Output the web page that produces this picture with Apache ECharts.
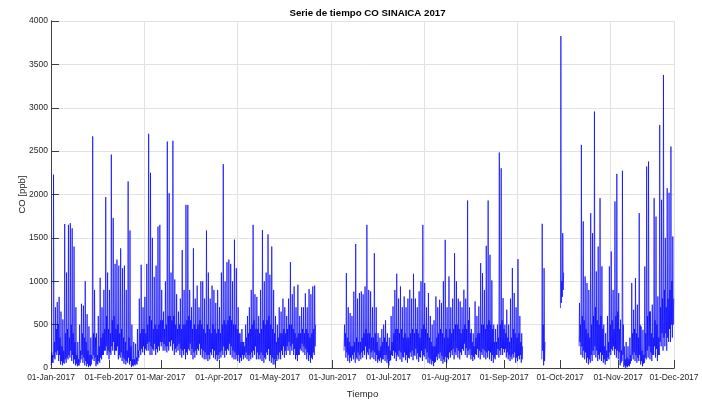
<!DOCTYPE html>
<html>
<head>
<meta charset="utf-8">
<script src="https://cdn.jsdelivr.net/npm/echarts@6/dist/echarts.min.js"></script>
<style>html,body{margin:0;padding:0;background:#fff}#c{width:702px;height:401px}</style>
</head>
<body>
<div id="c"></div>
<script>
// Hourly CO [ppb] 2017, summarised per day (null = no data):
// night minimum, morning maximum, afternoon low, evening level
const maxJan = [180, 2230, 700, 760, 820, 650, 560, 1660, 1100, 1650, 1670, 1610, 1400, 700, 300, 500, 740, 720, 1000, 620, 480, 350, 2670, 900, 400, 600, 1040, 700, 900, 1970, 1100];
const minJan = [30, 60, 100, 150, 80, 40, 30, 50, 60, 100, 120, 80, 50, 30, 20, 30, 100, 60, 30, 20, 10, 20, 100, 80, 20, 40, 60, 100, 150, 200, 150];
const lowJan = [60, 120, 180, 200, 150, 80, 60, 100, 120, 150, 200, 150, 100, 50, 30, 60, 150, 120, 80, 50, 30, 40, 150, 120, 50, 80, 120, 150, 200, 250, 200];
const eveJan = [150, 300, 450, 500, 350, 250, 200, 400, 450, 350, 500, 400, 300, 150, 100, 200, 400, 350, 300, 200, 150, 150, 400, 350, 150, 250, 350, 400, 450, 600, 450];

const maxFeb = [900, 2460, 1730, 1200, 1250, 1180, 1380, 1150, 1180, 900, 2150, 1585, 500, 300, 280, 450, 800, 1190, 700, 820, 1200, 2700, 2250, 1500, 1050, 1180, 1630, 1650];
const minFeb = [100, 150, 200, 150, 200, 100, 120, 80, 50, 40, 60, 40, 10, 20, 30, 40, 120, 150, 180, 150, 200, 200, 150, 150, 200, 150, 180, 200];
const lowFeb = [180, 250, 300, 200, 250, 150, 180, 120, 100, 80, 120, 80, 30, 40, 50, 80, 200, 220, 250, 220, 280, 300, 250, 220, 280, 220, 250, 300];
const eveFeb = [400, 550, 600, 450, 500, 400, 450, 350, 300, 200, 350, 250, 100, 100, 120, 200, 400, 450, 450, 400, 500, 600, 550, 450, 500, 450, 500, 550];

const maxMar = [900, 650, 1000, 2610, 2015, 1100, 2620, 1020, 850, 650, 800, 1360, 900, 1880, 1880, 900, 700, 1380, 800, 950, 700, 1000, 1000, 800, 1585, 1100, 800, 950, 900, 750, 900];
const minMar = [250, 200, 200, 180, 200, 250, 200, 150, 180, 200, 150, 120, 150, 100, 150, 200, 150, 100, 120, 150, 200, 150, 120, 100, 100, 80, 100, 150, 120, 100, 80];
const lowMar = [300, 280, 250, 250, 300, 320, 280, 220, 250, 280, 220, 200, 220, 180, 220, 280, 220, 180, 200, 220, 280, 220, 200, 180, 150, 150, 180, 220, 200, 150, 150];
const eveMar = [550, 450, 500, 600, 600, 550, 600, 500, 450, 500, 450, 500, 500, 550, 600, 550, 450, 500, 450, 500, 550, 500, 450, 400, 500, 450, 400, 500, 450, 400, 450];

const maxApr = [700, 1100, 2350, 1000, 1220, 1250, 1200, 1000, 1480, 1150, 700, 400, 450, 300, 500, 600, 700, 900, 1650, 850, 820, 600, 900, 1590, 1000, 1100, 1540, 1075, 1400, 900];
const minApr = [100, 120, 150, 120, 150, 200, 150, 120, 100, 100, 80, 60, 80, 100, 120, 100, 80, 100, 120, 150, 100, 100, 100, 80, 60, 100, 150, 80, 60, 40];
const lowApr = [180, 200, 250, 200, 220, 280, 250, 200, 180, 150, 150, 120, 150, 150, 180, 150, 150, 180, 200, 250, 180, 150, 180, 150, 120, 180, 220, 150, 120, 100];
const eveApr = [400, 500, 550, 500, 550, 600, 550, 500, 500, 450, 400, 300, 300, 250, 350, 400, 450, 500, 550, 450, 450, 400, 450, 550, 500, 550, 600, 500, 450, 400];

const maxMay = [600, 500, 700, 650, 800, 700, 600, 800, 1220, 850, 940, 700, 960, 600, 700, 700, 860, 700, 910, 850, 940, 950, null, null, null, null, null, null, null, null, null];
const minMay = [40, 80, 100, 100, 150, 120, 150, 200, 150, 200, 150, 100, 80, 150, 200, 180, 150, 100, 80, 60, 100, 150, null, null, null, null, null, null, null, null, null];
const lowMay = [100, 150, 180, 200, 250, 200, 250, 300, 250, 280, 220, 150, 150, 220, 280, 250, 220, 180, 150, 120, 180, 250, null, null, null, null, null, null, null, null, null];
const eveMay = [300, 350, 400, 400, 450, 400, 450, 500, 500, 450, 400, 350, 400, 400, 450, 400, 450, 400, 350, 400, 450, 500, null, null, null, null, null, null, null, null, null];

const maxJun = [null, null, null, null, null, null, 500, 1094, 700, 633, 600, 880, 1430, 800, 864, 883, 850, 940, 1650, 900, 883, 700, 1324, 700, 400, 350, 450, 500, 550, 400];
const minJun = [null, null, null, null, null, null, 200, 120, 80, 60, 80, 100, 60, 100, 80, 100, 120, 150, 100, 150, 100, 120, 100, 80, 60, 80, 60, 100, 80, 60];
const lowJun = [null, null, null, null, null, null, 250, 180, 150, 120, 150, 180, 120, 180, 150, 180, 200, 250, 180, 220, 180, 200, 180, 150, 100, 120, 100, 150, 150, 100];
const eveJun = [null, null, null, null, null, null, 400, 350, 300, 250, 250, 300, 350, 300, 300, 350, 400, 450, 400, 400, 350, 350, 400, 300, 200, 250, 300, 350, 300, 250];

const maxJul = [350, 600, 710, 900, 1086, 800, 940, 700, 825, 700, 800, 902, 800, 1086, 800, 700, 883, 1000, 1650, 980, 700, 864, 600, 500, 550, 825, 700, 787, 750, 1000, 1478];
const minJul = [30, 90, 140, 110, 80, 130, 100, 70, 120, 90, 60, 110, 130, 90, 140, 100, 70, 120, 80, 130, 100, 60, 50, 40, 20, 70, 90, 110, 80, 50, 70];
const lowJul = [80, 150, 200, 180, 150, 200, 180, 130, 180, 150, 120, 180, 200, 150, 220, 170, 130, 200, 150, 220, 180, 120, 100, 80, 60, 130, 160, 180, 140, 100, 130];
const eveJul = [200, 300, 400, 450, 450, 400, 450, 350, 400, 350, 350, 400, 450, 400, 450, 400, 350, 450, 500, 450, 400, 350, 300, 250, 250, 350, 400, 450, 400, 350, 450];

const maxAug = [700, 1056, 700, 800, 1324, 1000, 800, 768, 700, 902, 800, 1931, 700, 450, 400, 768, 600, 710, 1209, 1094, 900, 1409, 1931, 1305, 1010, 500, 450, 500, 2484, 2303, 806];
const minAug = [60, 100, 120, 150, 100, 150, 120, 100, 150, 200, 150, 120, 150, 100, 80, 100, 150, 120, 100, 150, 120, 100, 120, 100, 80, 60, 100, 150, 120, 150, 150];
const lowAug = [120, 180, 200, 220, 180, 230, 200, 180, 220, 280, 230, 200, 220, 150, 130, 160, 220, 200, 180, 220, 200, 180, 200, 180, 150, 120, 150, 220, 200, 230, 220];
const eveAug = [350, 450, 400, 450, 500, 500, 450, 400, 450, 500, 450, 550, 400, 300, 250, 350, 400, 400, 500, 500, 450, 500, 550, 500, 450, 300, 300, 350, 500, 550, 450];

const maxSep = [500, 672, 500, 800, 1152, 864, 700, 1255, 600, 400, null, null, null, null, null, null, null, null, null, null, 1662, 1150, null, null, null, null, null, null, null, null];
const minSep = [180, 120, 100, 80, 100, 120, 60, 80, 100, 60, null, null, null, null, null, null, null, null, null, null, 100, 30, null, null, null, null, null, null, null, null];
const lowSep = [220, 180, 150, 130, 160, 180, 120, 140, 150, 100, null, null, null, null, null, null, null, null, null, null, 200, 80, null, null, null, null, null, null, null, null];
const eveSep = [400, 350, 300, 350, 450, 400, 350, 400, 300, 250, null, null, null, null, null, null, null, null, null, null, 500, 300, null, null, null, null, null, null, null, null];

const maxOct = [3827, 1555, null, null, null, null, null, null, null, null, 750, 2572, 1690, 1056, 980, 900, 1785, 1555, 2956, 1113, 1401, 1958, 1171, 500, 400, 600, 1171, 1344, 900, 1920, 2238];
const minOct = [690, 820, null, null, null, null, null, null, null, null, 250, 150, 120, 100, 60, 40, 60, 80, 150, 120, 80, 100, 80, 60, 40, 80, 100, 150, 200, 150, 120];
const lowOct = [750, 900, null, null, null, null, null, null, null, null, 300, 250, 200, 180, 120, 100, 150, 200, 250, 200, 150, 180, 150, 100, 80, 120, 180, 220, 250, 220, 200];
const eveOct = [1000, 1100, null, null, null, null, null, null, null, null, 500, 600, 550, 450, 400, 350, 500, 600, 700, 550, 500, 600, 450, 250, 200, 300, 500, 550, 450, 600, 650];

const maxNov = [864, 557, 2273, 250, 300, 250, 350, 980, 672, 1036, 730, 1785, 480, 440, 1171, 2323, 2380, 653, 730, 1958, 1746, 825, 2802, 1939, 3378, 1500, 2073, 2020, 2553, 1516];
const minNov = [100, 30, 80, 10, 0, 10, 20, 80, 100, 80, 60, 80, 40, 20, 60, 100, 120, 100, 80, 150, 120, 80, 150, 250, 200, 250, 200, 300, 300, 350];
const lowNov = [180, 60, 150, 30, 20, 30, 50, 150, 180, 150, 120, 150, 80, 50, 120, 200, 250, 180, 150, 250, 220, 150, 300, 400, 350, 400, 350, 450, 500, 500];
const eveNov = [450, 200, 500, 100, 120, 100, 150, 400, 450, 400, 350, 500, 200, 150, 400, 600, 650, 400, 350, 550, 500, 350, 700, 800, 900, 700, 800, 900, 1000, 800];

// X ticks: first day of each month (day-of-year offset) and their labels
const tickDays = [0, 31, 59, 90, 120, 151, 181, 212, 243, 273, 304, 334];
const tickLabels = ['01-Jan-2017', '01-Feb-2017', '01-Mar-2017', '01-Apr-2017', '01-May-2017', '01-Jun-2017',
  '01-Jul-2017', '01-Aug-2017', '01-Sep-2017', '01-Oct-2017', '01-Nov-2017', '01-Dec-2017'];
const yTicks = [0, 500, 1000, 1500, 2000, 2500, 3000, 3500, 4000];

const dayMin = [].concat(minJan, minFeb, minMar, minApr, minMay, minJun, minJul, minAug, minSep, minOct, minNov);
const dayMax = [].concat(maxJan, maxFeb, maxMar, maxApr, maxMay, maxJun, maxJul, maxAug, maxSep, maxOct, maxNov);
const dayLow = [].concat(lowJan, lowFeb, lowMar, lowApr, lowMay, lowJun, lowJul, lowAug, lowSep, lowOct, lowNov);
const dayEve = [].concat(eveJan, eveFeb, eveMar, eveApr, eveMay, eveJun, eveJul, eveAug, eveSep, eveOct, eveNov);

// fraction of the day at which each reading is placed
const points = [];
for (let d = 0; d < dayMax.length; d++) {
  points.push([d + 0.12, dayMin[d]]);
  points.push([d + 0.35, dayMax[d]]);
  points.push([d + 0.6, dayLow[d]]);
  points.push([d + 0.85, dayEve[d]]);
}

const FONT = 'Liberation Sans, Arial, Helvetica, sans-serif';
const AX = '#262626';
const LINE = '#404040';
const TL = 4; // inward tick length

// main axes: line + labels + grid; tick-only axes are shifted inward by TL so that their ticks point into the plot
function xMain(pos) {
  return {
    type: 'value', min: 0, max: 334, position: pos,
    axisLine: {show: true, lineStyle: {color: LINE, width: 1}},
    axisTick: {show: false}, axisLabel: {show: false}, splitLine: {show: false}
  };
}
function xTicks(pos) {
  return {
    type: 'value', min: 0, max: 334, position: pos, offset: -TL,
    axisLine: {show: false},
    axisTick: {show: true, length: TL, customValues: tickDays, lineStyle: {color: LINE}},
    axisLabel: {show: false}, splitLine: {show: false}
  };
}
function yMain(pos) {
  return {
    type: 'value', min: 0, max: 4000, interval: 500, position: pos,
    axisLine: {show: true, lineStyle: {color: LINE, width: 1}},
    axisTick: {show: false}, axisLabel: {show: false}, splitLine: {show: false}
  };
}
function yTicksAxis(pos) {
  return {
    type: 'value', min: 0, max: 4000, interval: 500, position: pos, offset: -TL,
    axisLine: {show: false},
    axisTick: {show: true, length: TL, lineStyle: {color: LINE}},
    axisLabel: {show: false}, splitLine: {show: false}
  };
}

const chart = echarts.init(document.getElementById('c'), null, {renderer: 'canvas'});
chart.setOption({
  animation: false,
  backgroundColor: '#ffffff',
  title: {
    text: 'Serie de tiempo CO SINAICA 2017',
    left: 362.5, top: 3, textAlign: 'center',
    textStyle: {fontSize: 9.7, fontWeight: 'bold', color: '#000', fontFamily: FONT}
  },
  grid: {left: 51, right: 28, top: 21, bottom: 33, containLabel: false, outerBoundsMode: 'none'},
  xAxis: [{
    type: 'value', min: 0, max: 334, position: 'bottom',
    name: 'Tiempo', nameLocation: 'middle', nameGap: 21, nameMoveOverlap: false,
    nameTextStyle: {fontSize: 9.5, color: AX, fontFamily: FONT},
    axisLine: {show: true, lineStyle: {color: LINE, width: 1}},
    axisTick: {show: false},
    axisLabel: {customValues: tickDays, margin: 5, fontSize: 8.5, color: AX, fontFamily: FONT,
      formatter: v => tickLabels[tickDays.indexOf(Math.round(v))] || ''},
    splitLine: {show: true, lineStyle: {color: '#e2e2e2', width: 1}}
  }, xMain('top'), xTicks('bottom'), xTicks('top')],
  yAxis: [{
    type: 'value', min: 0, max: 4000, interval: 500, position: 'left',
    name: 'CO [ppb]', nameLocation: 'middle', nameGap: 24, nameMoveOverlap: false,
    nameTextStyle: {fontSize: 9.5, color: AX, fontFamily: FONT},
    axisLine: {show: true, lineStyle: {color: LINE, width: 1}},
    axisTick: {show: false},
    axisLabel: {margin: 3, fontSize: 8.5, color: AX, fontFamily: FONT,
      formatter: v => yTicks.indexOf(v) >= 0 ? String(v) : ''},
    splitLine: {show: true, lineStyle: {color: '#e2e2e2', width: 1}}
  }, yMain('right'), yTicksAxis('left'), yTicksAxis('right')],
  series: [{
    type: 'line', xAxisIndex: 0, yAxisIndex: 0,
    data: points, showSymbol: false, symbol: 'none', connectNulls: false,
    lineStyle: {color: '#0000ff', width: 0.7}, silent: true
  }]
});
</script>
</body>
</html>
